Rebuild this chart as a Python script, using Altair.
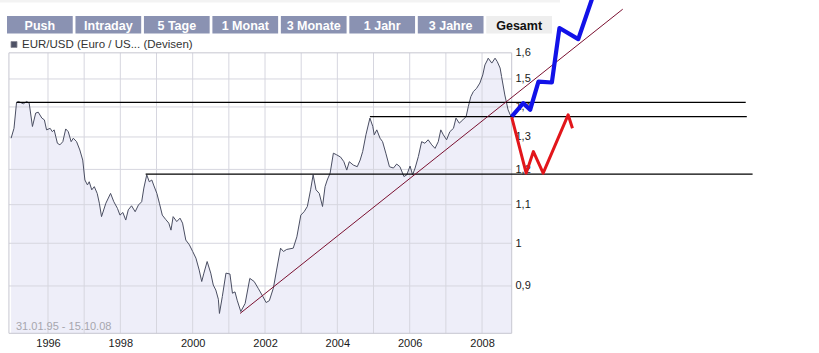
import altair as alt
import pandas as pd

# ---------------- data ----------------
tabs = ["Push", "Intraday", "5 Tage", "1 Monat", "3 Monate", "1 Jahr", "3 Jahre", "Gesamt"]
active_tab = "Gesamt"
legend_label = "EUR/USD (Euro / US... (Devisen)"
range_label = "31.01.95 - 15.10.08"

price_t = [
    1994.98, 1995.06, 1995.13, 1995.18, 1995.32, 1995.41, 1995.48, 1995.57, 1995.66, 1995.73,
    1995.83, 1995.90, 1995.96, 1996.06, 1996.12, 1996.17, 1996.26, 1996.33, 1996.41, 1996.49,
    1996.56, 1996.64, 1996.70, 1996.79, 1996.88, 1996.96, 1997.02, 1997.09, 1997.14, 1997.21,
    1997.28, 1997.36, 1997.42, 1997.48, 1997.60, 1997.73, 1997.82, 1997.92, 1997.99, 1998.07,
    1998.15, 1998.22, 1998.31, 1998.41, 1998.50, 1998.59, 1998.65, 1998.73, 1998.80, 1998.87,
    1998.93, 1999.01, 1999.08, 1999.16, 1999.25, 1999.34, 1999.40, 1999.46, 1999.56, 1999.65,
    1999.72, 1999.81, 1999.91, 2000.00, 2000.09, 2000.18, 2000.25, 2000.31, 2000.40, 2000.50,
    2000.57, 2000.64, 2000.71, 2000.74, 2000.82, 2000.92, 2001.03, 2001.10, 2001.17, 2001.23,
    2001.33, 2001.45, 2001.58, 2001.70, 2001.81, 2001.94, 2002.03, 2002.12, 2002.23, 2002.32,
    2002.43, 2002.51, 2002.60, 2002.78, 2002.88, 2002.99, 2003.08, 2003.17, 2003.26, 2003.33,
    2003.41, 2003.50, 2003.59, 2003.66, 2003.72, 2003.80, 2003.89, 2003.98, 2004.09, 2004.18,
    2004.26, 2004.33, 2004.44, 2004.55, 2004.63, 2004.70, 2004.79, 2004.90, 2004.98, 2005.02,
    2005.09, 2005.18, 2005.25, 2005.34, 2005.44, 2005.55, 2005.64, 2005.73, 2005.84, 2005.92,
    2006.01, 2006.08, 2006.15, 2006.24, 2006.33, 2006.42, 2006.51, 2006.61, 2006.70, 2006.79,
    2006.86, 2006.93, 2007.02, 2007.11, 2007.21, 2007.28, 2007.37, 2007.47, 2007.56, 2007.62,
    2007.69, 2007.76, 2007.85, 2007.94, 2008.02, 2008.08, 2008.15, 2008.17, 2008.27, 2008.36,
    2008.42, 2008.50, 2008.54, 2008.63, 2008.72, 2008.80,
]
price_v = [
    1.296, 1.328, 1.415, 1.419, 1.411, 1.419, 1.413, 1.334, 1.379, 1.382,
    1.362, 1.356, 1.323, 1.328, 1.317, 1.323, 1.280, 1.275, 1.285, 1.326,
    1.317, 1.285, 1.296, 1.285, 1.259, 1.228, 1.169, 1.155, 1.164, 1.141,
    1.150, 1.131, 1.104, 1.068, 1.104, 1.131, 1.108, 1.090, 1.072, 1.079,
    1.059, 1.086, 1.097, 1.081, 1.099, 1.108, 1.146, 1.184, 1.164, 1.169,
    1.152, 1.131, 1.104, 1.072, 1.061, 1.051, 1.033, 1.068, 1.055, 1.064,
    1.051, 1.008, 0.996, 0.980, 0.964, 0.936, 0.910, 0.929, 0.956, 0.929,
    0.902, 0.891, 0.871, 0.841, 0.877, 0.929, 0.927, 0.884, 0.887, 0.869,
    0.845, 0.862, 0.917, 0.910, 0.895, 0.877, 0.864, 0.868, 0.895, 0.936,
    0.988, 0.980, 0.985, 0.988, 1.016, 1.072, 1.081, 1.095, 1.141, 1.184,
    1.141, 1.131, 1.095, 1.150, 1.169, 1.189, 1.249, 1.244, 1.237, 1.223,
    1.198, 1.223, 1.213, 1.208, 1.228, 1.254, 1.307, 1.362, 1.334, 1.307,
    1.323, 1.296, 1.285, 1.249, 1.208, 1.204, 1.216, 1.208, 1.179, 1.184,
    1.210, 1.184, 1.204, 1.239, 1.285, 1.280, 1.291, 1.275, 1.264, 1.285,
    1.323, 1.307, 1.291, 1.317, 1.328, 1.362, 1.345, 1.356, 1.367, 1.401,
    1.436, 1.454, 1.466, 1.485, 1.515, 1.553, 1.572, 1.579, 1.560, 1.579,
    1.566, 1.541, 1.509, 1.442, 1.390, 1.367,
]

grid_years = list(range(1996, 2009))
label_years = [1996, 1998, 2000, 2002, 2004, 2006, 2008]
y_ticks = [0.9, 1.0, 1.1, 1.2, 1.3, 1.4, 1.5, 1.6]

frame_t = [1994.92, 2008.82]
frame_v = [0.8008, 1.6]

# hand-drawn support/resistance lines
hline_level = [1.416, 1.367, 1.186]
hline_start = [1995.13, 2004.90, 1998.70]
hline_end = [2015.29, 2015.32, 2015.48]

# hand-drawn trend line
trend_t = [2001.31, 2011.89]
trend_v = [0.841, 1.782]

# hand-drawn scenarios
blue_t = [2008.82, 2009.14, 2009.33, 2009.56, 2009.93, 2010.14, 2010.66, 2011.03, 2011.15]
blue_v = [1.367, 1.413, 1.390, 1.490, 1.487, 1.701, 1.655, 1.823, 1.883]
red_t = [2008.82, 2009.22, 2009.42, 2009.69, 2010.38, 2010.50]
red_v = [1.365, 1.189, 1.254, 1.189, 1.373, 1.328]

# ---------------- scales / axes ----------------
FONT = "Liberation Sans"
x_scale = alt.Scale(domain=[1994.673, 2017.316], nice=False, zero=False)
y_scale = alt.Scale(type="log", domain=[0.7628, 1.8228], nice=False)

x_axis = alt.Axis(values=label_years, format="d", orient="bottom", offset=-20,
                  domain=False, ticks=False, grid=False, title=None,
                  labelFontSize=11, labelFont=FONT, labelColor="#1a1a1a",
                  labelPadding=4, labelFlush=False, labelOverlap=False)
y_axis = alt.Axis(values=y_ticks, orient="right", offset=-308,
                  labelExpr="replace(format(datum.value, '.1~f'), '.', ',')",
                  domain=False, ticks=False, grid=False, title=None,
                  labelFontSize=11, labelFont=FONT, labelColor="#1a1a1a",
                  labelPadding=4, labelFlush=False, labelOverlap=False)


def X(f):
    return alt.X(f, type="quantitative", scale=x_scale, axis=x_axis)


def Y(f):
    return alt.Y(f, type="quantitative", scale=y_scale, axis=y_axis)


price_df = pd.DataFrame({"t": price_t, "v": price_v, "base": frame_v[0]})
vgrid_df = pd.DataFrame({"t": grid_years, "lo": frame_v[0], "hi": frame_v[1]})
hgrid_df = pd.DataFrame({"v": y_ticks[:-1], "a": frame_t[0], "b": frame_t[1]})
frame_df = pd.DataFrame({"a": [frame_t[0]], "b": [frame_t[1]], "lo": [frame_v[0]], "hi": [frame_v[1]]})
hl_df = pd.DataFrame({"a": hline_start, "b": hline_end, "v": hline_level})
trend_df = pd.DataFrame({"t": trend_t, "v": trend_v})
blue_df = pd.DataFrame({"t": blue_t, "v": blue_v, "o": list(range(len(blue_t)))})
red_df = pd.DataFrame({"t": red_t, "v": red_v, "o": list(range(len(red_t)))})
text_df = pd.DataFrame({"range": [range_label], "legend": [legend_label]})

area = alt.Chart(price_df).mark_area(color="#EEEEF9").encode(x=X("t"), y=Y("v"), y2="base")
vgrid = alt.Chart(vgrid_df).mark_rule(color="#D6D6DF", strokeWidth=1).encode(x=X("t"), y=Y("lo"), y2="hi")
hgrid = alt.Chart(hgrid_df).mark_rule(color="#D6D6DF", strokeWidth=1).encode(x=X("a"), x2="b", y=Y("v"))
frame = alt.Chart(frame_df).mark_rect(fillOpacity=0, stroke="#C6C6D0", strokeWidth=1).encode(
    x=X("a"), x2="b", y=Y("lo"), y2="hi")
line = alt.Chart(price_df).mark_line(color="#4A4E62", strokeWidth=1).encode(x=X("t"), y=Y("v"))
range_txt = alt.Chart(text_df).mark_text(align="left", baseline="middle", fontSize=11, font=FONT,
                                         color="#A6A6AE").encode(
    x=alt.value(16), y=alt.value(326.5), text="range:N")
hlines = alt.Chart(hl_df).mark_rule(color="#000000", strokeWidth=1.2).encode(x=X("a"), x2="b", y=Y("v"))
trend = alt.Chart(trend_df).mark_line(color="#7A1030", strokeWidth=1).encode(x=X("t"), y=Y("v"))
blue = alt.Chart(blue_df).mark_line(color="#1212E8", strokeWidth=4.2, strokeJoin="round").encode(
    x=X("t"), y=Y("v"), order="o:Q")
red = alt.Chart(red_df).mark_line(color="#E2161B", strokeWidth=3, strokeJoin="round").encode(
    x=X("t"), y=Y("v"), order="o:Q")
leg_sq = alt.Chart(text_df).mark_rect(color="#4F5266", stroke="#8A8A96", strokeWidth=0.8).encode(
    x=alt.value(11), x2=alt.value(17), y=alt.value(41.5), y2=alt.value(47.5))
leg_txt = alt.Chart(text_df).mark_text(align="left", baseline="middle", fontSize=11.5, font=FONT,
                                       color="#333333").encode(
    x=alt.value(22), y=alt.value(45), text="legend:N")
top_band = alt.Chart(text_df).mark_rect(color="#F3F3F3").encode(
    x=alt.value(0), x2=alt.value(560), y=alt.value(0), y2=alt.value(2.5))

main = alt.layer(top_band, area, vgrid, hgrid, frame, line, range_txt, hlines, trend, blue, red,
                 leg_sq, leg_txt)

# ---- tab bar ----
tab_df = pd.DataFrame({"tab": tabs, "state": ["active" if t == active_tab else "inactive" for t in tabs]})
tab_x = alt.X("tab:N", sort=tabs, axis=None,
              scale=alt.Scale(range=[7, 552], paddingInner=0.04, paddingOuter=0))
tab_rect = alt.Chart(tab_df).mark_rect().encode(
    x=tab_x, y=alt.value(16), y2=alt.value(33.5),
    color=alt.Color("state:N", legend=None,
                    scale=alt.Scale(domain=["inactive", "active"], range=["#8A92B2", "#EEEEEE"])))
tab_text = alt.Chart(tab_df).mark_text(fontWeight="bold", fontSize=12.5, font=FONT, baseline="middle").encode(
    x=tab_x, y=alt.value(25.5), text="tab:N",
    color=alt.Color("state:N", legend=None,
                    scale=alt.Scale(domain=["inactive", "active"], range=["#FFFFFF", "#111111"])))
tab_layer = alt.layer(tab_rect, tab_text).resolve_scale(color="independent")

chart = alt.layer(main, tab_layer).resolve_scale(x="independent", color="independent").properties(
    width=819, height=353, padding=0,
    autosize=alt.AutoSizeParams(type="none"),
    background="#FFFFFF",
).configure_view(stroke=None)

chart.save("out.html", embed_options={"renderer": "svg", "actions": False})
